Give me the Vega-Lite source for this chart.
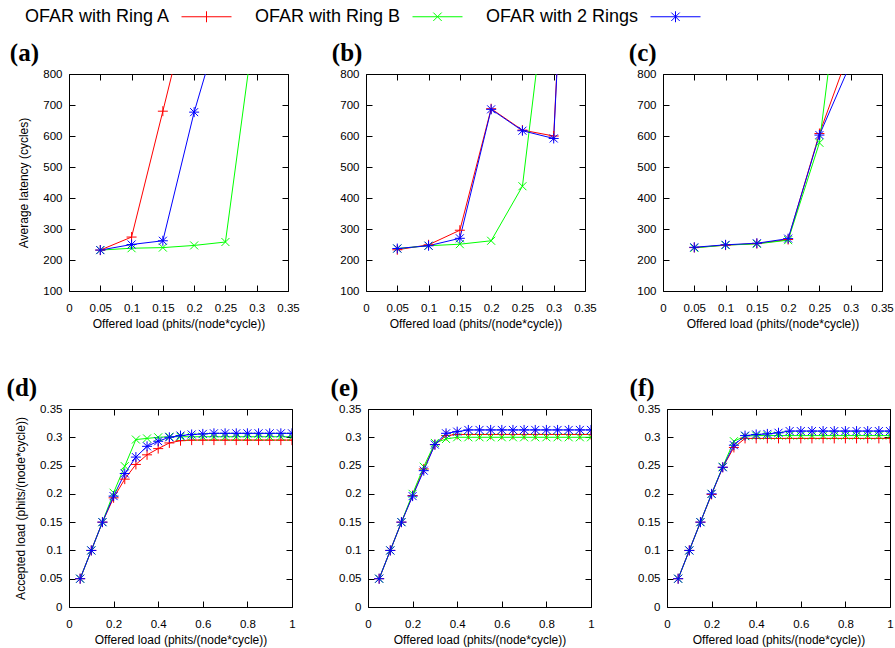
{
  "$schema": "https://vega.github.io/schema/vega-lite/v6.json",
  "padding": {"left": 6, "top": 6, "right": 2, "bottom": 2},
  "background": "white",
  "datasets": {
    "a": [
      {"s": "OFAR with Ring A", "x": 0.05, "y": 232}, {"s": "OFAR with Ring A", "x": 0.1, "y": 274}, {"s": "OFAR with Ring A", "x": 0.15, "y": 680}, {"s": "OFAR with Ring A", "x": 0.2, "y": 1090},
      {"s": "OFAR with Ring B", "x": 0.05, "y": 232}, {"s": "OFAR with Ring B", "x": 0.1, "y": 238}, {"s": "OFAR with Ring B", "x": 0.15, "y": 240}, {"s": "OFAR with Ring B", "x": 0.2, "y": 247}, {"s": "OFAR with Ring B", "x": 0.25, "y": 258}, {"s": "OFAR with Ring B", "x": 0.3, "y": 1010},
      {"s": "OFAR with 2 Rings", "x": 0.05, "y": 232}, {"s": "OFAR with 2 Rings", "x": 0.1, "y": 250}, {"s": "OFAR with 2 Rings", "x": 0.15, "y": 262}, {"s": "OFAR with 2 Rings", "x": 0.2, "y": 677}, {"s": "OFAR with 2 Rings", "x": 0.25, "y": 1020}
    ],
    "b": [
      {"s": "OFAR with Ring A", "x": 0.05, "y": 233}, {"s": "OFAR with Ring A", "x": 0.1, "y": 249}, {"s": "OFAR with Ring A", "x": 0.15, "y": 296}, {"s": "OFAR with Ring A", "x": 0.2, "y": 688}, {"s": "OFAR with Ring A", "x": 0.25, "y": 619}, {"s": "OFAR with Ring A", "x": 0.3, "y": 600}, {"s": "OFAR with Ring A", "x": 0.35, "y": 2700},
      {"s": "OFAR with Ring B", "x": 0.05, "y": 237}, {"s": "OFAR with Ring B", "x": 0.1, "y": 246}, {"s": "OFAR with Ring B", "x": 0.15, "y": 251}, {"s": "OFAR with Ring B", "x": 0.2, "y": 262}, {"s": "OFAR with Ring B", "x": 0.25, "y": 438}, {"s": "OFAR with Ring B", "x": 0.3, "y": 1270},
      {"s": "OFAR with 2 Rings", "x": 0.05, "y": 237}, {"s": "OFAR with 2 Rings", "x": 0.1, "y": 246}, {"s": "OFAR with 2 Rings", "x": 0.15, "y": 270}, {"s": "OFAR with 2 Rings", "x": 0.2, "y": 686}, {"s": "OFAR with 2 Rings", "x": 0.25, "y": 617}, {"s": "OFAR with 2 Rings", "x": 0.3, "y": 592}, {"s": "OFAR with 2 Rings", "x": 0.35, "y": 2680}
    ],
    "c": [
      {"s": "OFAR with Ring A", "x": 0.05, "y": 240}, {"s": "OFAR with Ring A", "x": 0.1, "y": 248}, {"s": "OFAR with Ring A", "x": 0.15, "y": 253}, {"s": "OFAR with Ring A", "x": 0.2, "y": 266}, {"s": "OFAR with Ring A", "x": 0.25, "y": 608}, {"s": "OFAR with Ring A", "x": 0.3, "y": 886},
      {"s": "OFAR with Ring B", "x": 0.05, "y": 239}, {"s": "OFAR with Ring B", "x": 0.1, "y": 248}, {"s": "OFAR with Ring B", "x": 0.15, "y": 252}, {"s": "OFAR with Ring B", "x": 0.2, "y": 264}, {"s": "OFAR with Ring B", "x": 0.25, "y": 578}, {"s": "OFAR with Ring B", "x": 0.3, "y": 1388},
      {"s": "OFAR with 2 Rings", "x": 0.05, "y": 241}, {"s": "OFAR with 2 Rings", "x": 0.1, "y": 249}, {"s": "OFAR with 2 Rings", "x": 0.15, "y": 254}, {"s": "OFAR with 2 Rings", "x": 0.2, "y": 269}, {"s": "OFAR with 2 Rings", "x": 0.25, "y": 603}, {"s": "OFAR with 2 Rings", "x": 0.3, "y": 835}
    ],
    "d": [
      {"s": "OFAR with Ring A", "x": 0.05, "y": 0.05}, {"s": "OFAR with Ring A", "x": 0.1, "y": 0.1}, {"s": "OFAR with Ring A", "x": 0.15, "y": 0.15}, {"s": "OFAR with Ring A", "x": 0.2, "y": 0.193}, {"s": "OFAR with Ring A", "x": 0.25, "y": 0.226}, {"s": "OFAR with Ring A", "x": 0.3, "y": 0.252}, {"s": "OFAR with Ring A", "x": 0.35, "y": 0.269}, {"s": "OFAR with Ring A", "x": 0.4, "y": 0.28}, {"s": "OFAR with Ring A", "x": 0.45, "y": 0.29}, {"s": "OFAR with Ring A", "x": 0.5, "y": 0.294}, {"s": "OFAR with Ring A", "x": 0.55, "y": 0.295}, {"s": "OFAR with Ring A", "x": 0.6, "y": 0.295}, {"s": "OFAR with Ring A", "x": 0.65, "y": 0.295}, {"s": "OFAR with Ring A", "x": 0.7, "y": 0.295}, {"s": "OFAR with Ring A", "x": 0.75, "y": 0.295}, {"s": "OFAR with Ring A", "x": 0.8, "y": 0.295}, {"s": "OFAR with Ring A", "x": 0.85, "y": 0.295}, {"s": "OFAR with Ring A", "x": 0.9, "y": 0.295}, {"s": "OFAR with Ring A", "x": 0.95, "y": 0.295}, {"s": "OFAR with Ring A", "x": 1, "y": 0.295},
      {"s": "OFAR with Ring B", "x": 0.05, "y": 0.05}, {"s": "OFAR with Ring B", "x": 0.1, "y": 0.1}, {"s": "OFAR with Ring B", "x": 0.15, "y": 0.15}, {"s": "OFAR with Ring B", "x": 0.2, "y": 0.202}, {"s": "OFAR with Ring B", "x": 0.25, "y": 0.249}, {"s": "OFAR with Ring B", "x": 0.3, "y": 0.296}, {"s": "OFAR with Ring B", "x": 0.35, "y": 0.298}, {"s": "OFAR with Ring B", "x": 0.4, "y": 0.3}, {"s": "OFAR with Ring B", "x": 0.45, "y": 0.301}, {"s": "OFAR with Ring B", "x": 0.5, "y": 0.301}, {"s": "OFAR with Ring B", "x": 0.55, "y": 0.301}, {"s": "OFAR with Ring B", "x": 0.6, "y": 0.301}, {"s": "OFAR with Ring B", "x": 0.65, "y": 0.301}, {"s": "OFAR with Ring B", "x": 0.7, "y": 0.301}, {"s": "OFAR with Ring B", "x": 0.75, "y": 0.301}, {"s": "OFAR with Ring B", "x": 0.8, "y": 0.301}, {"s": "OFAR with Ring B", "x": 0.85, "y": 0.301}, {"s": "OFAR with Ring B", "x": 0.9, "y": 0.301}, {"s": "OFAR with Ring B", "x": 0.95, "y": 0.301}, {"s": "OFAR with Ring B", "x": 1, "y": 0.301},
      {"s": "OFAR with 2 Rings", "x": 0.05, "y": 0.05}, {"s": "OFAR with 2 Rings", "x": 0.1, "y": 0.1}, {"s": "OFAR with 2 Rings", "x": 0.15, "y": 0.15}, {"s": "OFAR with 2 Rings", "x": 0.2, "y": 0.196}, {"s": "OFAR with 2 Rings", "x": 0.25, "y": 0.236}, {"s": "OFAR with 2 Rings", "x": 0.3, "y": 0.265}, {"s": "OFAR with 2 Rings", "x": 0.35, "y": 0.284}, {"s": "OFAR with 2 Rings", "x": 0.4, "y": 0.293}, {"s": "OFAR with 2 Rings", "x": 0.45, "y": 0.3}, {"s": "OFAR with 2 Rings", "x": 0.5, "y": 0.303}, {"s": "OFAR with 2 Rings", "x": 0.55, "y": 0.305}, {"s": "OFAR with 2 Rings", "x": 0.6, "y": 0.306}, {"s": "OFAR with 2 Rings", "x": 0.65, "y": 0.307}, {"s": "OFAR with 2 Rings", "x": 0.7, "y": 0.307}, {"s": "OFAR with 2 Rings", "x": 0.75, "y": 0.307}, {"s": "OFAR with 2 Rings", "x": 0.8, "y": 0.307}, {"s": "OFAR with 2 Rings", "x": 0.85, "y": 0.307}, {"s": "OFAR with 2 Rings", "x": 0.9, "y": 0.307}, {"s": "OFAR with 2 Rings", "x": 0.95, "y": 0.307}, {"s": "OFAR with 2 Rings", "x": 1, "y": 0.307}
    ],
    "e": [
      {"s": "OFAR with Ring A", "x": 0.05, "y": 0.05}, {"s": "OFAR with Ring A", "x": 0.1, "y": 0.1}, {"s": "OFAR with Ring A", "x": 0.15, "y": 0.15}, {"s": "OFAR with Ring A", "x": 0.2, "y": 0.197}, {"s": "OFAR with Ring A", "x": 0.25, "y": 0.244}, {"s": "OFAR with Ring A", "x": 0.3, "y": 0.287}, {"s": "OFAR with Ring A", "x": 0.35, "y": 0.303}, {"s": "OFAR with Ring A", "x": 0.4, "y": 0.305}, {"s": "OFAR with Ring A", "x": 0.45, "y": 0.305}, {"s": "OFAR with Ring A", "x": 0.5, "y": 0.305}, {"s": "OFAR with Ring A", "x": 0.55, "y": 0.305}, {"s": "OFAR with Ring A", "x": 0.6, "y": 0.305}, {"s": "OFAR with Ring A", "x": 0.65, "y": 0.305}, {"s": "OFAR with Ring A", "x": 0.7, "y": 0.305}, {"s": "OFAR with Ring A", "x": 0.75, "y": 0.305}, {"s": "OFAR with Ring A", "x": 0.8, "y": 0.305}, {"s": "OFAR with Ring A", "x": 0.85, "y": 0.305}, {"s": "OFAR with Ring A", "x": 0.9, "y": 0.305}, {"s": "OFAR with Ring A", "x": 0.95, "y": 0.305}, {"s": "OFAR with Ring A", "x": 1, "y": 0.305},
      {"s": "OFAR with Ring B", "x": 0.05, "y": 0.05}, {"s": "OFAR with Ring B", "x": 0.1, "y": 0.1}, {"s": "OFAR with Ring B", "x": 0.15, "y": 0.15}, {"s": "OFAR with Ring B", "x": 0.2, "y": 0.2}, {"s": "OFAR with Ring B", "x": 0.25, "y": 0.248}, {"s": "OFAR with Ring B", "x": 0.3, "y": 0.29}, {"s": "OFAR with Ring B", "x": 0.35, "y": 0.297}, {"s": "OFAR with Ring B", "x": 0.4, "y": 0.3}, {"s": "OFAR with Ring B", "x": 0.45, "y": 0.3}, {"s": "OFAR with Ring B", "x": 0.5, "y": 0.3}, {"s": "OFAR with Ring B", "x": 0.55, "y": 0.3}, {"s": "OFAR with Ring B", "x": 0.6, "y": 0.3}, {"s": "OFAR with Ring B", "x": 0.65, "y": 0.3}, {"s": "OFAR with Ring B", "x": 0.7, "y": 0.3}, {"s": "OFAR with Ring B", "x": 0.75, "y": 0.3}, {"s": "OFAR with Ring B", "x": 0.8, "y": 0.3}, {"s": "OFAR with Ring B", "x": 0.85, "y": 0.3}, {"s": "OFAR with Ring B", "x": 0.9, "y": 0.3}, {"s": "OFAR with Ring B", "x": 0.95, "y": 0.3}, {"s": "OFAR with Ring B", "x": 1, "y": 0.3},
      {"s": "OFAR with 2 Rings", "x": 0.05, "y": 0.05}, {"s": "OFAR with 2 Rings", "x": 0.1, "y": 0.1}, {"s": "OFAR with 2 Rings", "x": 0.15, "y": 0.15}, {"s": "OFAR with 2 Rings", "x": 0.2, "y": 0.196}, {"s": "OFAR with 2 Rings", "x": 0.25, "y": 0.241}, {"s": "OFAR with 2 Rings", "x": 0.3, "y": 0.287}, {"s": "OFAR with 2 Rings", "x": 0.35, "y": 0.307}, {"s": "OFAR with 2 Rings", "x": 0.4, "y": 0.31}, {"s": "OFAR with 2 Rings", "x": 0.45, "y": 0.313}, {"s": "OFAR with 2 Rings", "x": 0.5, "y": 0.313}, {"s": "OFAR with 2 Rings", "x": 0.55, "y": 0.313}, {"s": "OFAR with 2 Rings", "x": 0.6, "y": 0.313}, {"s": "OFAR with 2 Rings", "x": 0.65, "y": 0.313}, {"s": "OFAR with 2 Rings", "x": 0.7, "y": 0.313}, {"s": "OFAR with 2 Rings", "x": 0.75, "y": 0.313}, {"s": "OFAR with 2 Rings", "x": 0.8, "y": 0.313}, {"s": "OFAR with 2 Rings", "x": 0.85, "y": 0.313}, {"s": "OFAR with 2 Rings", "x": 0.9, "y": 0.313}, {"s": "OFAR with 2 Rings", "x": 0.95, "y": 0.313}, {"s": "OFAR with 2 Rings", "x": 1, "y": 0.313}
    ],
    "f": [
      {"s": "OFAR with Ring A", "x": 0.05, "y": 0.05}, {"s": "OFAR with Ring A", "x": 0.1, "y": 0.1}, {"s": "OFAR with Ring A", "x": 0.15, "y": 0.15}, {"s": "OFAR with Ring A", "x": 0.2, "y": 0.199}, {"s": "OFAR with Ring A", "x": 0.25, "y": 0.247}, {"s": "OFAR with Ring A", "x": 0.3, "y": 0.282}, {"s": "OFAR with Ring A", "x": 0.35, "y": 0.298}, {"s": "OFAR with Ring A", "x": 0.4, "y": 0.298}, {"s": "OFAR with Ring A", "x": 0.45, "y": 0.298}, {"s": "OFAR with Ring A", "x": 0.5, "y": 0.298}, {"s": "OFAR with Ring A", "x": 0.55, "y": 0.298}, {"s": "OFAR with Ring A", "x": 0.6, "y": 0.298}, {"s": "OFAR with Ring A", "x": 0.65, "y": 0.298}, {"s": "OFAR with Ring A", "x": 0.7, "y": 0.298}, {"s": "OFAR with Ring A", "x": 0.75, "y": 0.298}, {"s": "OFAR with Ring A", "x": 0.8, "y": 0.298}, {"s": "OFAR with Ring A", "x": 0.85, "y": 0.298}, {"s": "OFAR with Ring A", "x": 0.9, "y": 0.298}, {"s": "OFAR with Ring A", "x": 0.95, "y": 0.298}, {"s": "OFAR with Ring A", "x": 1, "y": 0.298},
      {"s": "OFAR with Ring B", "x": 0.05, "y": 0.05}, {"s": "OFAR with Ring B", "x": 0.1, "y": 0.1}, {"s": "OFAR with Ring B", "x": 0.15, "y": 0.15}, {"s": "OFAR with Ring B", "x": 0.2, "y": 0.2}, {"s": "OFAR with Ring B", "x": 0.25, "y": 0.248}, {"s": "OFAR with Ring B", "x": 0.3, "y": 0.293}, {"s": "OFAR with Ring B", "x": 0.35, "y": 0.302}, {"s": "OFAR with Ring B", "x": 0.4, "y": 0.303}, {"s": "OFAR with Ring B", "x": 0.45, "y": 0.303}, {"s": "OFAR with Ring B", "x": 0.5, "y": 0.303}, {"s": "OFAR with Ring B", "x": 0.55, "y": 0.303}, {"s": "OFAR with Ring B", "x": 0.6, "y": 0.303}, {"s": "OFAR with Ring B", "x": 0.65, "y": 0.303}, {"s": "OFAR with Ring B", "x": 0.7, "y": 0.303}, {"s": "OFAR with Ring B", "x": 0.75, "y": 0.303}, {"s": "OFAR with Ring B", "x": 0.8, "y": 0.303}, {"s": "OFAR with Ring B", "x": 0.85, "y": 0.303}, {"s": "OFAR with Ring B", "x": 0.9, "y": 0.303}, {"s": "OFAR with Ring B", "x": 0.95, "y": 0.303}, {"s": "OFAR with Ring B", "x": 1, "y": 0.303},
      {"s": "OFAR with 2 Rings", "x": 0.05, "y": 0.05}, {"s": "OFAR with 2 Rings", "x": 0.1, "y": 0.1}, {"s": "OFAR with 2 Rings", "x": 0.15, "y": 0.15}, {"s": "OFAR with 2 Rings", "x": 0.2, "y": 0.2}, {"s": "OFAR with 2 Rings", "x": 0.25, "y": 0.247}, {"s": "OFAR with 2 Rings", "x": 0.3, "y": 0.286}, {"s": "OFAR with 2 Rings", "x": 0.35, "y": 0.303}, {"s": "OFAR with 2 Rings", "x": 0.4, "y": 0.305}, {"s": "OFAR with 2 Rings", "x": 0.45, "y": 0.306}, {"s": "OFAR with 2 Rings", "x": 0.5, "y": 0.308}, {"s": "OFAR with 2 Rings", "x": 0.55, "y": 0.311}, {"s": "OFAR with 2 Rings", "x": 0.6, "y": 0.311}, {"s": "OFAR with 2 Rings", "x": 0.65, "y": 0.311}, {"s": "OFAR with 2 Rings", "x": 0.7, "y": 0.311}, {"s": "OFAR with 2 Rings", "x": 0.75, "y": 0.311}, {"s": "OFAR with 2 Rings", "x": 0.8, "y": 0.311}, {"s": "OFAR with 2 Rings", "x": 0.85, "y": 0.311}, {"s": "OFAR with 2 Rings", "x": 0.9, "y": 0.311}, {"s": "OFAR with 2 Rings", "x": 0.95, "y": 0.311}, {"s": "OFAR with 2 Rings", "x": 1, "y": 0.311}
    ]
  },
  "spacing": 45,
  "vconcat": [
    {
      "spacing": 31,
      "hconcat": [
        {
          "width": 219, "height": 217,
          "title": {"text": "(a)"},
          "data": {"name": "a"},
          "layer": [
            {
              "encoding": {
                "x": {"field": "x", "type": "quantitative", "scale": {"domain": [0, 0.35], "nice": false, "zero": false}, "axis": {"values": [0, 0.05, 0.1, 0.15, 0.2, 0.25, 0.3, 0.35], "format": "~g", "title": "Offered load (phits/(node*cycle))"}},
                "y": {"field": "y", "type": "quantitative", "scale": {"domain": [100, 800], "nice": false, "zero": false}, "axis": {"values": [100, 200, 300, 400, 500, 600, 700, 800], "title": "Average latency (cycles)"}},
                "color": {"field": "s", "type": "nominal", "scale": {"domain": ["OFAR with Ring A", "OFAR with Ring B", "OFAR with 2 Rings"], "range": ["#ff0000", "#00ff00", "#0000ff"]},
                  "legend": {"title": null, "orient": "top", "offset": 14, "direction": "horizontal", "labelFont": "Liberation Sans", "labelFontSize": 18, "labelColor": "black", "labelAlign": "right", "labelOffset": -48, "symbolSize": 400, "symbolStrokeWidth": 1, "symbolFillColor": "transparent", "columnPadding": 20,
                    "symbolType": {"expr": "datum.value === 'OFAR with Ring A' ? 'M-2.5,0L2.5,0M0,-0.55L0,0.55' : datum.value === 'OFAR with Ring B' ? 'M-2.5,0L2.5,0M-0.42,-0.42L0.42,0.42M-0.42,0.42L0.42,-0.42' : 'M-2.5,0L2.5,0M0,-0.55L0,0.55M-0.42,-0.42L0.42,0.42M-0.42,0.42L0.42,-0.42'"}}}
              },
              "layer": [
                {"mark": {"type": "line", "clip": true, "strokeWidth": 1}},
                {"transform": [{"filter": "datum.s === 'OFAR with Ring A'"}], "mark": {"type": "point", "clip": true, "filled": false, "size": 100, "strokeWidth": 1, "opacity": 1, "shape": "M-1,0L1,0M0,-1L0,1"}},
                {"transform": [{"filter": "datum.s === 'OFAR with Ring B'"}], "mark": {"type": "point", "clip": true, "filled": false, "size": 100, "strokeWidth": 1, "opacity": 1, "shape": "M-0.8,-0.8L0.8,0.8M-0.8,0.8L0.8,-0.8"}},
                {"transform": [{"filter": "datum.s === 'OFAR with 2 Rings'"}], "mark": {"type": "point", "clip": true, "filled": false, "size": 100, "strokeWidth": 1, "opacity": 1, "shape": "M-1,0L1,0M0,-1L0,1M-0.8,-0.8L0.8,0.8M-0.8,0.8L0.8,-0.8"}}
              ]
            },
            {
              "mark": {"type": "point", "opacity": 0, "clip": true},
              "encoding": {
                "x": {"field": "x", "type": "quantitative", "scale": {"domain": [0, 0.35], "nice": false, "zero": false}, "axis": {"orient": "top", "values": [0, 0.05, 0.1, 0.15, 0.2, 0.25, 0.3, 0.35], "labels": false, "title": null}},
                "y": {"field": "y", "type": "quantitative", "scale": {"domain": [100, 800], "nice": false, "zero": false}, "axis": {"orient": "right", "values": [100, 200, 300, 400, 500, 600, 700, 800], "labels": false, "title": null}}
              }
            }
          ],
          "resolve": {"scale": {"x": "independent", "y": "independent"}}
        },
        {
          "width": 219, "height": 217,
          "title": {"text": "(b)"},
          "data": {"name": "b"},
          "layer": [
            {
              "encoding": {
                "x": {"field": "x", "type": "quantitative", "scale": {"domain": [0, 0.35], "nice": false, "zero": false}, "axis": {"values": [0, 0.05, 0.1, 0.15, 0.2, 0.25, 0.3, 0.35], "format": "~g", "title": "Offered load (phits/(node*cycle))"}},
                "y": {"field": "y", "type": "quantitative", "scale": {"domain": [100, 800], "nice": false, "zero": false}, "axis": {"values": [100, 200, 300, 400, 500, 600, 700, 800], "title": null}},
                "color": {"field": "s", "type": "nominal"}
              },
              "layer": [
                {"mark": {"type": "line", "clip": true, "strokeWidth": 1}},
                {"transform": [{"filter": "datum.s === 'OFAR with Ring A'"}], "mark": {"type": "point", "clip": true, "filled": false, "size": 100, "strokeWidth": 1, "opacity": 1, "shape": "M-1,0L1,0M0,-1L0,1"}},
                {"transform": [{"filter": "datum.s === 'OFAR with Ring B'"}], "mark": {"type": "point", "clip": true, "filled": false, "size": 100, "strokeWidth": 1, "opacity": 1, "shape": "M-0.8,-0.8L0.8,0.8M-0.8,0.8L0.8,-0.8"}},
                {"transform": [{"filter": "datum.s === 'OFAR with 2 Rings'"}], "mark": {"type": "point", "clip": true, "filled": false, "size": 100, "strokeWidth": 1, "opacity": 1, "shape": "M-1,0L1,0M0,-1L0,1M-0.8,-0.8L0.8,0.8M-0.8,0.8L0.8,-0.8"}}
              ]
            },
            {
              "mark": {"type": "point", "opacity": 0, "clip": true},
              "encoding": {
                "x": {"field": "x", "type": "quantitative", "scale": {"domain": [0, 0.35], "nice": false, "zero": false}, "axis": {"orient": "top", "values": [0, 0.05, 0.1, 0.15, 0.2, 0.25, 0.3, 0.35], "labels": false, "title": null}},
                "y": {"field": "y", "type": "quantitative", "scale": {"domain": [100, 800], "nice": false, "zero": false}, "axis": {"orient": "right", "values": [100, 200, 300, 400, 500, 600, 700, 800], "labels": false, "title": null}}
              }
            }
          ],
          "resolve": {"scale": {"x": "independent", "y": "independent"}}
        },
        {
          "width": 219, "height": 217,
          "title": {"text": "(c)"},
          "data": {"name": "c"},
          "layer": [
            {
              "encoding": {
                "x": {"field": "x", "type": "quantitative", "scale": {"domain": [0, 0.35], "nice": false, "zero": false}, "axis": {"values": [0, 0.05, 0.1, 0.15, 0.2, 0.25, 0.3, 0.35], "format": "~g", "title": "Offered load (phits/(node*cycle))"}},
                "y": {"field": "y", "type": "quantitative", "scale": {"domain": [100, 800], "nice": false, "zero": false}, "axis": {"values": [100, 200, 300, 400, 500, 600, 700, 800], "title": null}},
                "color": {"field": "s", "type": "nominal"}
              },
              "layer": [
                {"mark": {"type": "line", "clip": true, "strokeWidth": 1}},
                {"transform": [{"filter": "datum.s === 'OFAR with Ring A'"}], "mark": {"type": "point", "clip": true, "filled": false, "size": 100, "strokeWidth": 1, "opacity": 1, "shape": "M-1,0L1,0M0,-1L0,1"}},
                {"transform": [{"filter": "datum.s === 'OFAR with Ring B'"}], "mark": {"type": "point", "clip": true, "filled": false, "size": 100, "strokeWidth": 1, "opacity": 1, "shape": "M-0.8,-0.8L0.8,0.8M-0.8,0.8L0.8,-0.8"}},
                {"transform": [{"filter": "datum.s === 'OFAR with 2 Rings'"}], "mark": {"type": "point", "clip": true, "filled": false, "size": 100, "strokeWidth": 1, "opacity": 1, "shape": "M-1,0L1,0M0,-1L0,1M-0.8,-0.8L0.8,0.8M-0.8,0.8L0.8,-0.8"}}
              ]
            },
            {
              "mark": {"type": "point", "opacity": 0, "clip": true},
              "encoding": {
                "x": {"field": "x", "type": "quantitative", "scale": {"domain": [0, 0.35], "nice": false, "zero": false}, "axis": {"orient": "top", "values": [0, 0.05, 0.1, 0.15, 0.2, 0.25, 0.3, 0.35], "labels": false, "title": null}},
                "y": {"field": "y", "type": "quantitative", "scale": {"domain": [100, 800], "nice": false, "zero": false}, "axis": {"orient": "right", "values": [100, 200, 300, 400, 500, 600, 700, 800], "labels": false, "title": null}}
              }
            }
          ],
          "resolve": {"scale": {"x": "independent", "y": "independent"}}
        }
      ]
    },
    {
      "spacing": 34,
      "hconcat": [
        {
          "width": 223, "height": 198,
          "title": {"text": "(d)"},
          "data": {"name": "d"},
          "layer": [
            {
              "encoding": {
                "x": {"field": "x", "type": "quantitative", "scale": {"domain": [0, 1], "nice": false, "zero": false}, "axis": {"values": [0, 0.2, 0.4, 0.6, 0.8, 1], "format": "~g", "title": "Offered load (phits/(node*cycle))"}},
                "y": {"field": "y", "type": "quantitative", "scale": {"domain": [0, 0.35], "nice": false, "zero": false}, "axis": {"values": [0, 0.05, 0.1, 0.15, 0.2, 0.25, 0.3, 0.35], "format": "~g", "title": "Accepted load (phits/(node*cycle))"}},
                "color": {"field": "s", "type": "nominal"}
              },
              "layer": [
                {"mark": {"type": "line", "clip": true, "strokeWidth": 1}},
                {"transform": [{"filter": "datum.s === 'OFAR with Ring A'"}], "mark": {"type": "point", "clip": true, "filled": false, "size": 100, "strokeWidth": 1, "opacity": 1, "shape": "M-1,0L1,0M0,-1L0,1"}},
                {"transform": [{"filter": "datum.s === 'OFAR with Ring B'"}], "mark": {"type": "point", "clip": true, "filled": false, "size": 100, "strokeWidth": 1, "opacity": 1, "shape": "M-0.8,-0.8L0.8,0.8M-0.8,0.8L0.8,-0.8"}},
                {"transform": [{"filter": "datum.s === 'OFAR with 2 Rings'"}], "mark": {"type": "point", "clip": true, "filled": false, "size": 100, "strokeWidth": 1, "opacity": 1, "shape": "M-1,0L1,0M0,-1L0,1M-0.8,-0.8L0.8,0.8M-0.8,0.8L0.8,-0.8"}}
              ]
            },
            {
              "mark": {"type": "point", "opacity": 0, "clip": true},
              "encoding": {
                "x": {"field": "x", "type": "quantitative", "scale": {"domain": [0, 1], "nice": false, "zero": false}, "axis": {"orient": "top", "values": [0, 0.2, 0.4, 0.6, 0.8, 1], "labels": false, "title": null}},
                "y": {"field": "y", "type": "quantitative", "scale": {"domain": [0, 0.35], "nice": false, "zero": false}, "axis": {"orient": "right", "values": [0, 0.05, 0.1, 0.15, 0.2, 0.25, 0.3, 0.35], "labels": false, "title": null}}
              }
            }
          ],
          "resolve": {"scale": {"x": "independent", "y": "independent"}}
        },
        {
          "width": 223, "height": 198,
          "title": {"text": "(e)"},
          "data": {"name": "e"},
          "layer": [
            {
              "encoding": {
                "x": {"field": "x", "type": "quantitative", "scale": {"domain": [0, 1], "nice": false, "zero": false}, "axis": {"values": [0, 0.2, 0.4, 0.6, 0.8, 1], "format": "~g", "title": "Offered load (phits/(node*cycle))"}},
                "y": {"field": "y", "type": "quantitative", "scale": {"domain": [0, 0.35], "nice": false, "zero": false}, "axis": {"values": [0, 0.05, 0.1, 0.15, 0.2, 0.25, 0.3, 0.35], "format": "~g", "title": null}},
                "color": {"field": "s", "type": "nominal"}
              },
              "layer": [
                {"mark": {"type": "line", "clip": true, "strokeWidth": 1}},
                {"transform": [{"filter": "datum.s === 'OFAR with Ring A'"}], "mark": {"type": "point", "clip": true, "filled": false, "size": 100, "strokeWidth": 1, "opacity": 1, "shape": "M-1,0L1,0M0,-1L0,1"}},
                {"transform": [{"filter": "datum.s === 'OFAR with Ring B'"}], "mark": {"type": "point", "clip": true, "filled": false, "size": 100, "strokeWidth": 1, "opacity": 1, "shape": "M-0.8,-0.8L0.8,0.8M-0.8,0.8L0.8,-0.8"}},
                {"transform": [{"filter": "datum.s === 'OFAR with 2 Rings'"}], "mark": {"type": "point", "clip": true, "filled": false, "size": 100, "strokeWidth": 1, "opacity": 1, "shape": "M-1,0L1,0M0,-1L0,1M-0.8,-0.8L0.8,0.8M-0.8,0.8L0.8,-0.8"}}
              ]
            },
            {
              "mark": {"type": "point", "opacity": 0, "clip": true},
              "encoding": {
                "x": {"field": "x", "type": "quantitative", "scale": {"domain": [0, 1], "nice": false, "zero": false}, "axis": {"orient": "top", "values": [0, 0.2, 0.4, 0.6, 0.8, 1], "labels": false, "title": null}},
                "y": {"field": "y", "type": "quantitative", "scale": {"domain": [0, 0.35], "nice": false, "zero": false}, "axis": {"orient": "right", "values": [0, 0.05, 0.1, 0.15, 0.2, 0.25, 0.3, 0.35], "labels": false, "title": null}}
              }
            }
          ],
          "resolve": {"scale": {"x": "independent", "y": "independent"}}
        },
        {
          "width": 223, "height": 198,
          "title": {"text": "(f)"},
          "data": {"name": "f"},
          "layer": [
            {
              "encoding": {
                "x": {"field": "x", "type": "quantitative", "scale": {"domain": [0, 1], "nice": false, "zero": false}, "axis": {"values": [0, 0.2, 0.4, 0.6, 0.8, 1], "format": "~g", "title": "Offered load (phits/(node*cycle))"}},
                "y": {"field": "y", "type": "quantitative", "scale": {"domain": [0, 0.35], "nice": false, "zero": false}, "axis": {"values": [0, 0.05, 0.1, 0.15, 0.2, 0.25, 0.3, 0.35], "format": "~g", "title": null}},
                "color": {"field": "s", "type": "nominal"}
              },
              "layer": [
                {"mark": {"type": "line", "clip": true, "strokeWidth": 1}},
                {"transform": [{"filter": "datum.s === 'OFAR with Ring A'"}], "mark": {"type": "point", "clip": true, "filled": false, "size": 100, "strokeWidth": 1, "opacity": 1, "shape": "M-1,0L1,0M0,-1L0,1"}},
                {"transform": [{"filter": "datum.s === 'OFAR with Ring B'"}], "mark": {"type": "point", "clip": true, "filled": false, "size": 100, "strokeWidth": 1, "opacity": 1, "shape": "M-0.8,-0.8L0.8,0.8M-0.8,0.8L0.8,-0.8"}},
                {"transform": [{"filter": "datum.s === 'OFAR with 2 Rings'"}], "mark": {"type": "point", "clip": true, "filled": false, "size": 100, "strokeWidth": 1, "opacity": 1, "shape": "M-1,0L1,0M0,-1L0,1M-0.8,-0.8L0.8,0.8M-0.8,0.8L0.8,-0.8"}}
              ]
            },
            {
              "mark": {"type": "point", "opacity": 0, "clip": true},
              "encoding": {
                "x": {"field": "x", "type": "quantitative", "scale": {"domain": [0, 1], "nice": false, "zero": false}, "axis": {"orient": "top", "values": [0, 0.2, 0.4, 0.6, 0.8, 1], "labels": false, "title": null}},
                "y": {"field": "y", "type": "quantitative", "scale": {"domain": [0, 0.35], "nice": false, "zero": false}, "axis": {"orient": "right", "values": [0, 0.05, 0.1, 0.15, 0.2, 0.25, 0.3, 0.35], "labels": false, "title": null}}
              }
            }
          ],
          "resolve": {"scale": {"x": "independent", "y": "independent"}}
        }
      ]
    }
  ],
  "config": {
    "view": {"stroke": "black", "strokeWidth": 1},
    "axis": {"domain": false, "grid": false, "tickColor": "black", "tickSize": -6, "tickWidth": 1, "labelFont": "Liberation Sans", "labelFontSize": 11.5, "labelColor": "black", "titleFont": "Liberation Sans", "titleFontSize": 12, "titleFontWeight": "normal", "titleColor": "black"},
    "axisX": {"labelPadding": 17, "titlePadding": 5, "labelFlush": false},
    "axisY": {"labelPadding": 13, "titlePadding": 12},
    "title": {"anchor": "start", "frame": "bounds", "font": "Liberation Serif", "fontSize": 25, "fontWeight": "bold", "color": "black", "dx": -8, "offset": 2},
    "legend": {"layout": {"top": {"anchor": "middle"}}}
  }
}
